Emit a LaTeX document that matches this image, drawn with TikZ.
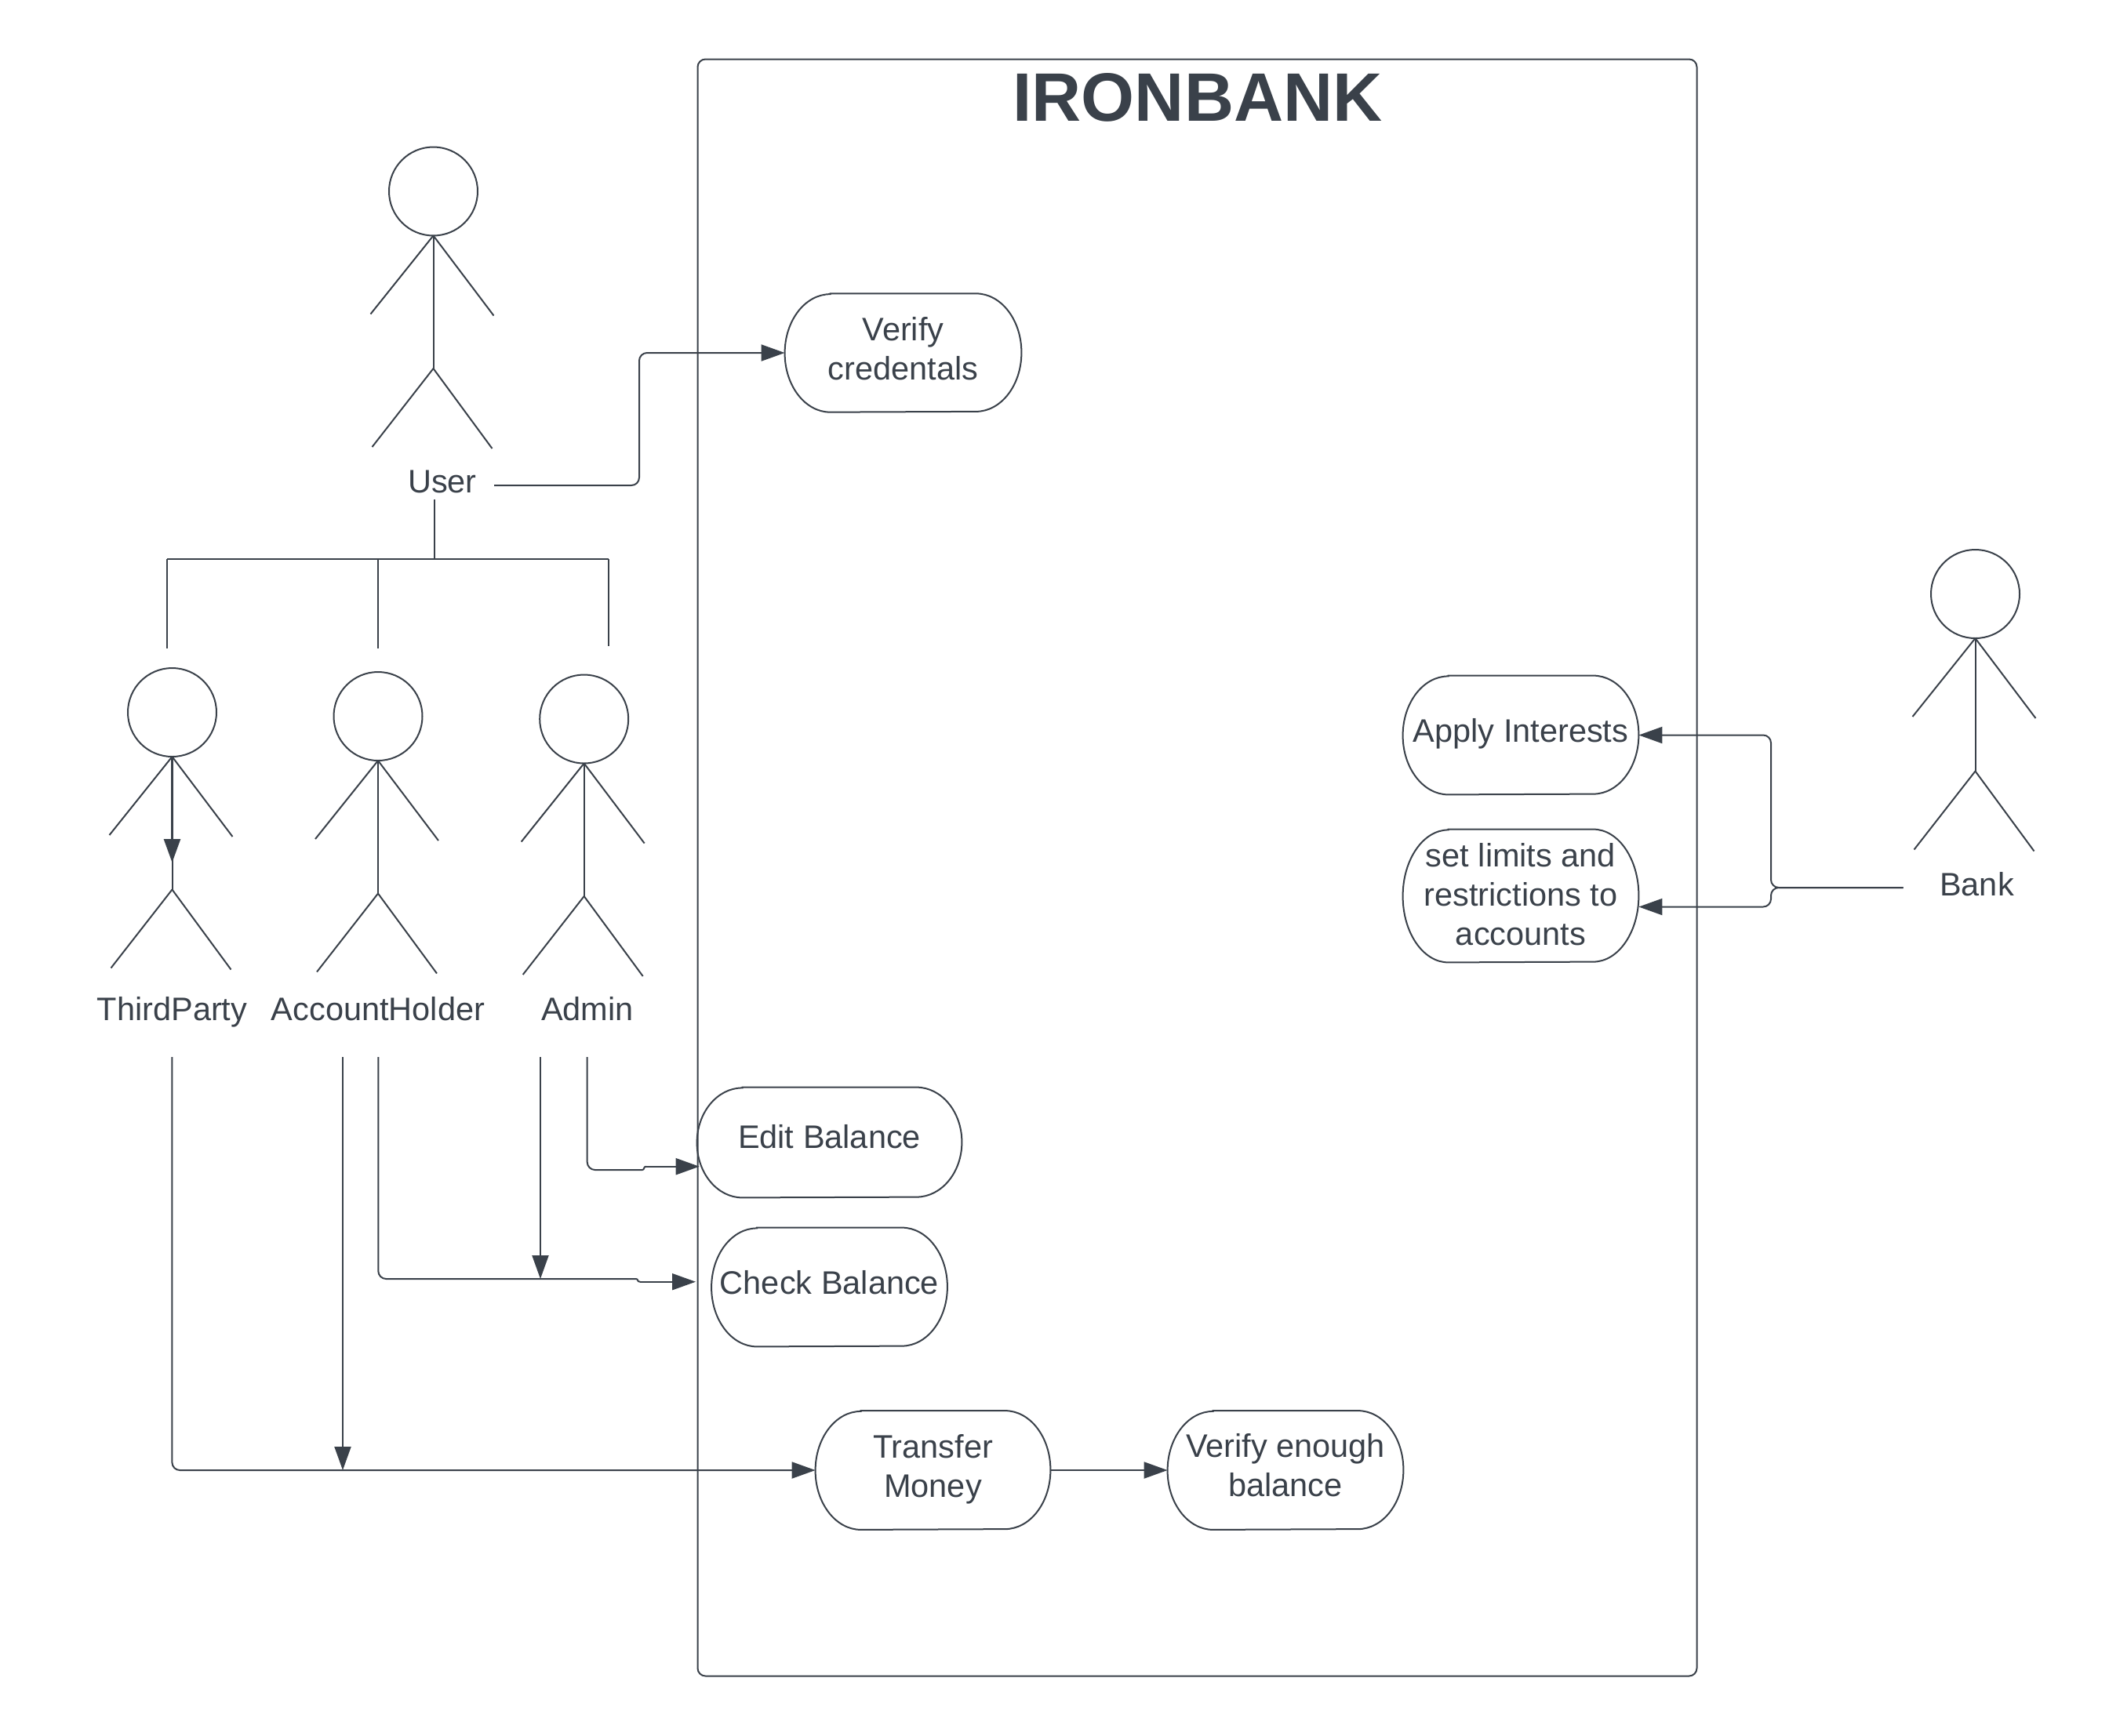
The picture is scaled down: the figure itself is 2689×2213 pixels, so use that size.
\documentclass[tikz,border=0pt]{standalone}
\usepackage{fontspec}
\setmainfont{Liberation Sans}
\usetikzlibrary{arrows.meta}
\definecolor{ink}{HTML}{3A414A}
\tikzset{
  stroke/.style={draw=ink,line width=1pt},
  arrowline/.style={stroke,-{Triangle[length=15pt,width=10.5pt,fill=ink]},rounded corners=5pt},
  plainline/.style={stroke,rounded corners=5pt},
  lbl/.style={text=ink,font=\fontsize{20.75}{25}\selectfont,align=center,inner sep=0pt},
  title/.style={text=ink,font=\fontsize{43.7}{50}\selectfont\bfseries,inner sep=0pt},
  head/.style={stroke,circle,minimum size=56.5pt,inner sep=0pt,outer sep=0pt},
}
% name, x centre, y of neck
\newcommand{\stickman}[3]{%
  \node[head,anchor=south] (#1) at (#2,#3) {};
  \coordinate (#1-neck) at (#2,#3);
  \coordinate (#1-hip) at (#2,#3+169.5);
  \draw[stroke] (#1-neck) -- ++(-40pt,-50pt);
  \draw[stroke] (#1-neck) -- ++(38.5pt,-51pt);
  \draw[stroke] (#1-hip) -- ++(-39pt,-50pt);
  \draw[stroke] (#1-hip) -- ++(37.5pt,-51pt);
  \draw[stroke] (#1-neck) -- (#1-hip);
}
% name, cx, cy, width, height, text yshift, text
\newcommand{\usecase}[7]{%
  \node[inner sep=0pt,minimum width=#4*0.5pt,minimum height=#5*0.5pt] (#1) at (#2,#3) {};
  \draw[stroke] ([xshift=29pt]#1.north west) -- ([xshift=-29pt]#1.north east)
    arc[start angle=90,end angle=-90,x radius=29pt,y radius=#5*0.25pt]
    -- ([xshift=29pt]#1.south west)
    arc[start angle=270,end angle=90,x radius=29pt,y radius=#5*0.25pt] -- cycle;
  \node[lbl] (#1-text) at (#2,#3+#6) {#7};
}
\begin{document}
\begin{tikzpicture}[x=0.5pt,y=-0.5pt]
\useasboundingbox (0,0) rectangle (2689,2213);
% frame
\node[stroke,rounded corners=5pt,inner sep=0pt,minimum width=637pt,minimum height=1031pt,anchor=north west] (frame) at (888.5,74.5) {};
\node[title] (bank-title) at (1527,124.5) {IRONBANK};
% actors
\stickman{user}{552.5}{300.5}
\stickman{third}{219.5}{965}
\stickman{holder}{482}{970}
\stickman{admin}{744.7}{973.5}
\stickman{bank}{2518.5}{814}
\coordinate (third-tip) at (219.5,1100);
\draw[arrowline,line width=1.3pt] (third-neck) -- (third-tip);
% labels
\node[lbl] (user-label) at (564,614.5) {User};
\node[lbl] (third-label) at (219.5,1290.5) {ThirdParty};
\node[lbl] (holder-label) at (482,1287) {AccountHolder};
\node[lbl] (admin-label) at (749,1287) {Admin};
\node[lbl] (bank-label) at (2520.5,1128) {Bank};
% use cases
\usecase{verify}{1151.5}{450}{301}{150.5}{-5}{Verify\\credentals}
\usecase{apply}{1939}{937.5}{300}{151}{-2}{Apply Interests}
\usecase{limits}{1939}{1142.5}{300}{169}{-2}{set limits and\\restrictions to\\accounts}
\usecase{edit}{1057.5}{1457}{337}{140}{-7}{Edit Balance}
\usecase{check}{1057.5}{1641.5}{300}{151}{-5.5}{Check Balance}
\usecase{transfer}{1189.5}{1875}{299}{151}{-1.5}{Transfer\\Money}
\usecase{enough}{1639}{1875}{300}{151}{-6.5}{Verify enough\\balance}
% free ends
\coordinate (c-user-r) at (630,619);
\coordinate (c-user-d) at (553.7,636.7);
\coordinate (c-tree-l) at (213,713);
\coordinate (c-tree-m) at (553.7,713);
\coordinate (c-tree-h) at (481.6,713);
\coordinate (c-tree-r) at (775.6,713);
\coordinate (c-third-up) at (213,827);
\coordinate (c-holder-up) at (481.6,826.5);
\coordinate (c-admin-up) at (775.6,824);
\coordinate (c-bank) at (2426.5,1132);
\coordinate (c-third) at (219.4,1348);
\coordinate (c-holder-a) at (437,1348);
\coordinate (c-holder-b) at (482.3,1348);
\coordinate (c-admin-a) at (689,1348);
\coordinate (c-admin-b) at (748.7,1348);
\coordinate (c-holder-tip) at (437,1875);
\coordinate (c-admin-tip) at (689,1631);
\coordinate (c-edit-tip) at (891.7,1487.7);
\coordinate (c-check-tip) at (887,1634.7);
% connectors
\draw[arrowline] (c-user-r) -- (815,619) -- (815,450) -- (verify.west);
\draw[plainline] (c-user-d) -- (c-tree-m);
\draw[plainline] (c-tree-l) -- (c-tree-r);
\draw[plainline] (c-tree-l) -- (c-third-up);
\draw[plainline] (c-tree-h) -- (c-holder-up);
\draw[plainline] (c-tree-r) -- (c-admin-up);
\draw[arrowline] (c-bank) -- (2258,1132) -- (2258,937.5) -- (apply.east);
\draw[arrowline] (c-bank) -- (2258,1132) -- (2258,1156.5) -- (limits.east |- 0,1156.5);
\draw[arrowline] (c-third) -- (219.4,1875) -- (transfer.west);
\draw[arrowline] (c-holder-a) -- (c-holder-tip);
\draw[arrowline] (c-admin-a) -- (c-admin-tip);
\draw[stroke,rounded corners=5pt] (c-holder-b) -- (482.3,1631) -- (811,1631);
\draw[stroke] (811,1631) .. controls (814,1631) and (812,1634.7) .. (816,1634.7);
\draw[stroke,-{Triangle[length=15pt,width=10.5pt,fill=ink]}] (816,1634.7) -- (c-check-tip);
\draw[stroke,rounded corners=5pt] (c-admin-b) -- (748.7,1492) -- (819,1492);
\draw[stroke] (819,1492) .. controls (822,1492) and (820,1487.7) .. (824,1487.7);
\draw[stroke,-{Triangle[length=15pt,width=10.5pt,fill=ink]}] (824,1487.7) -- (c-edit-tip);
\draw[arrowline] (transfer.east) -- (enough.west);
\end{tikzpicture}
\end{document}
